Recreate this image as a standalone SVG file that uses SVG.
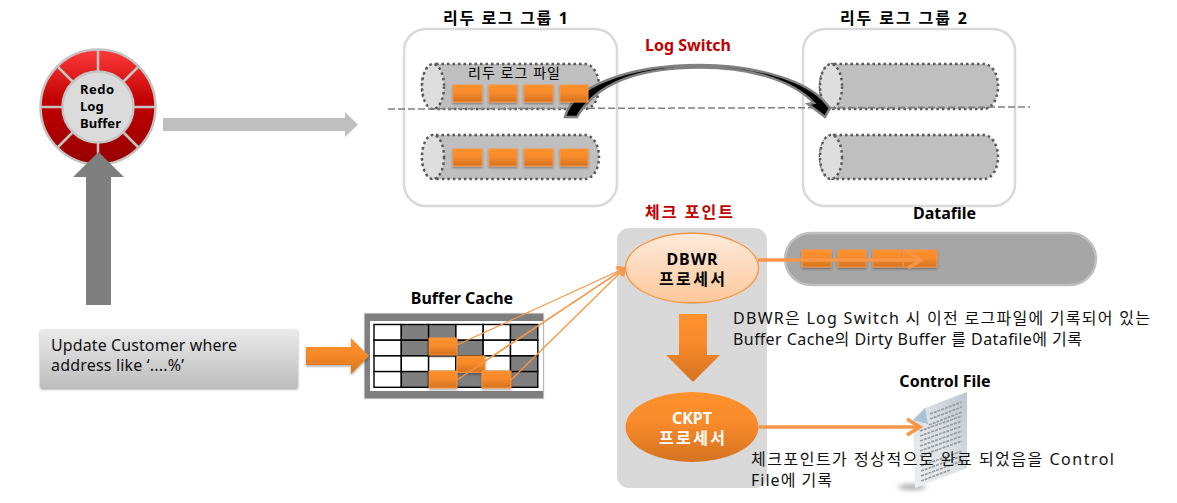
<svg xmlns="http://www.w3.org/2000/svg" width="1177" height="503" viewBox="0 0 1177 503">
<defs>
<linearGradient id="og" x1="0" y1="0" x2="0" y2="1"><stop offset="0" stop-color="#ff922d"/><stop offset=".45" stop-color="#f78a2a"/><stop offset="1" stop-color="#d4721f"/></linearGradient>
<linearGradient id="rd" x1="0" y1="0" x2="0" y2="1"><stop offset="0" stop-color="#ff3b3b"/><stop offset=".45" stop-color="#c00000"/><stop offset="1" stop-color="#960000"/></linearGradient>
<linearGradient id="gb" x1="0" y1="0" x2="0" y2="1"><stop offset="0" stop-color="#ebebeb"/><stop offset="1" stop-color="#bdbdbd"/></linearGradient>
<linearGradient id="lo" x1="0" y1="0" x2="0" y2="1"><stop offset="0" stop-color="#fdeadb"/><stop offset="1" stop-color="#fdc89b"/></linearGradient>
<linearGradient id="pg" x1="1" y1="0" x2="0" y2="1"><stop offset="0" stop-color="#bcc7d0"/><stop offset=".5" stop-color="#dde2e6"/><stop offset="1" stop-color="#eef0f2"/></linearGradient>
<filter id="sh" x="-20%" y="-20%" width="140%" height="150%"><feDropShadow dx="0" dy="1.500" stdDeviation="1.200" flood-color="#000" flood-opacity=".35"/></filter>
<filter id="bl" x="-50%" y="-200%" width="200%" height="500%"><feGaussianBlur stdDeviation="2.500"/></filter>
<filter id="sf" x="-10%" y="-10%" width="120%" height="120%"><feGaussianBlur stdDeviation="0.500"/></filter>
<marker id="ah" markerWidth="22" markerHeight="20" refX="17" refY="10" orient="auto" markerUnits="userSpaceOnUse"><path d="M4 2 L17 10 L4 18" fill="none" stroke="#f79646" stroke-width="3.500"/></marker>
<marker id="ahs" markerWidth="12" markerHeight="12" refX="9" refY="6" orient="auto" markerUnits="userSpaceOnUse"><path d="M2 1 L9 6 L2 11" fill="none" stroke="#f79646" stroke-width="1.500"/></marker>
</defs>
<style>
text{font-family:"Noto Sans","Noto Sans CJK KR",sans-serif;fill:#000}
.t{font-size:16px;font-weight:700;text-anchor:middle}
.b{font-size:16px;fill:#111}
.box{fill:#fff;stroke:#d9d9d9;stroke-width:2.500}
.cyl{fill:#bfbfbf;stroke:#595959;stroke-width:2.500;stroke-dasharray:2.500 3}
.cap{fill:#dedede;stroke:#595959;stroke-width:2.500;stroke-dasharray:2.500 3}
.o{fill:url(#og);stroke:#f79646;stroke-width:1;filter:url(#sh)}
.gc{stroke:#000;stroke-width:1.400;fill:#fff}
.gd{stroke:#000;stroke-width:1.400;fill:#7f7f7f}
.sp{stroke:#c4c4c4;stroke-width:2.500}
.ln{fill:none;stroke:#f79646;stroke-width:1.300}
.tl{stroke:#9a9d9f;stroke-width:1.800;fill:none;stroke-dasharray:3 1}
</style>

<g id="redo-log-buffer">
<circle cx="98" cy="107" r="57.500" fill="url(#rd)" stroke="#c4c4c4" stroke-width="2.500"/>
<path class="sp" d="M98 50V164M41 107H155M58 67L138 147M138 67L58 147"/>
<circle cx="98" cy="107" r="35.500" fill="#dbdbdb" stroke="#c4c4c4" stroke-width="2.500"/>
<text x="80" y="94" font-size="13" font-weight="700" textLength="34">Redo</text>
<text x="80" y="111" font-size="13" font-weight="700">Log</text>
<text x="80" y="128" font-size="13" font-weight="700" textLength="41">Buffer</text>
</g>

<g id="update-box">
<rect x="40" y="329" width="258" height="59" rx="2" fill="url(#gb)" filter="url(#sh)"/>
<text x="51" y="351" class="b" textLength="186">Update Customer where</text>
<text x="51" y="371" class="b" textLength="133">address like ‘....%’</text>
</g>

<g id="group-1">
<text x="505.500" y="24" class="t" textLength="125">리두 로그 그룹 1</text>
<rect class="box" x="404" y="29" width="213" height="177" rx="22"/>
<rect class="cyl" x="422" y="64" width="177" height="45" rx="14" ry="22"/>
<ellipse class="cap" cx="433" cy="86.500" rx="11" ry="22.500"/>
<text x="514" y="78" font-size="14" text-anchor="middle" fill="#222" textLength="92">리두 로그 파일</text>
<rect class="cyl" x="422" y="135" width="177" height="44" rx="14" ry="22"/>
<ellipse class="cap" cx="433" cy="157" rx="11" ry="22"/>
</g>

<g id="group-2">
<text x="903.500" y="24" class="t" textLength="127">리두 로그 그룹 2</text>
<rect class="box" x="803" y="29" width="212" height="177" rx="22"/>
<rect class="cyl" x="820" y="64" width="178" height="45" rx="14" ry="22"/>
<ellipse class="cap" cx="831" cy="86.500" rx="11" ry="22.500"/>
<rect class="cyl" x="820" y="135" width="178" height="44" rx="14" ry="22"/>
<ellipse class="cap" cx="831" cy="157" rx="11" ry="22"/>
</g>

<g id="checkpoint-panel">
<rect x="617" y="228" width="150" height="260" rx="12" fill="#d9d9d9"/>
<text x="689" y="218" class="t" style="fill:#c00000" textLength="88">체크 포인트</text>
</g>

<g id="datafile">
<text x="944.500" y="219" class="t">Datafile</text>
<rect x="785" y="233" width="311" height="52" rx="26" fill="#a6a6a6" stroke="#c0c0c0" stroke-width="2.500"/>
</g>

<g id="buffer-cache">
<text x="462" y="304" class="t">Buffer Cache</text>
<rect x="364" y="313" width="180" height="86" fill="#7f7f7f" stroke="#eee"/>
<rect x="370" y="321" width="173" height="70" fill="#fff"/>
<g>
<rect class="gc" x="374" y="324.500" width="27.300" height="15.700"/><rect class="gd" x="401.300" y="324.500" width="27.300" height="15.700"/><rect class="gd" x="428.600" y="324.500" width="27.300" height="15.700"/><rect class="gc" x="455.900" y="324.500" width="27.300" height="15.700"/><rect class="gc" x="483.200" y="324.500" width="27.300" height="15.700"/><rect class="gd" x="510.500" y="324.500" width="27.300" height="15.700"/>
<rect class="gc" x="374" y="340.200" width="27.300" height="15.700"/><rect class="gd" x="401.300" y="340.200" width="27.300" height="15.700"/><rect class="gc" x="428.600" y="340.200" width="27.300" height="15.700"/><rect class="gd" x="455.900" y="340.200" width="27.300" height="15.700"/><rect class="gc" x="483.200" y="340.200" width="27.300" height="15.700"/><rect class="gc" x="510.500" y="340.200" width="27.300" height="15.700"/>
<rect class="gc" x="374" y="355.900" width="27.300" height="15.700"/><rect class="gc" x="401.300" y="355.900" width="27.300" height="15.700"/><rect class="gc" x="428.600" y="355.900" width="27.300" height="15.700"/><rect class="gc" x="455.900" y="355.900" width="27.300" height="15.700"/><rect class="gc" x="483.200" y="355.900" width="27.300" height="15.700"/><rect class="gd" x="510.500" y="355.900" width="27.300" height="15.700"/>
<rect class="gc" x="374" y="371.600" width="27.300" height="15.700"/><rect class="gd" x="401.300" y="371.600" width="27.300" height="15.700"/><rect class="gc" x="428.600" y="371.600" width="27.300" height="15.700"/><rect class="gd" x="455.900" y="371.600" width="27.300" height="15.700"/><rect class="gc" x="483.200" y="371.600" width="27.300" height="15.700"/><rect class="gd" x="510.500" y="371.600" width="27.300" height="15.700"/>
</g>
<rect class="o" x="429" y="338" width="28" height="17"/>
<rect class="o" x="457" y="356" width="28" height="16.500"/>
<rect class="o" x="429" y="371" width="28" height="17"/>
<rect class="o" x="482" y="371" width="29" height="17"/>
</g>

<g id="dbwr">
<ellipse cx="692" cy="268" rx="66.500" ry="35" fill="url(#lo)" stroke="#f79646" stroke-width="1.300"/>
<text x="692" y="265" class="t" textLength="51">DBWR</text>
<text x="692" y="285" class="t" textLength="66">프로세서</text>
</g>

<g id="ckpt">
<ellipse cx="692" cy="427" rx="66.500" ry="35" fill="url(#og)"/>
<text x="692" y="424" class="t" style="fill:#fff" textLength="40">CKPT</text>
<text x="692" y="444" class="t" style="fill:#fff" textLength="66">프로세서</text>
</g>

<g id="control-file">
<text x="945" y="387" class="t">Control File</text>
<ellipse cx="912" cy="487" rx="14" ry="2.500" fill="#777" opacity=".7" filter="url(#bl)"/>
<polygon points="967,392 925,408 913,420 915,488 967,468" fill="url(#pg)"/>
<polygon points="925,408 913,420 928,424" fill="#a9c4d8"/>
<path class="tl" filter="url(#sf)" d="M930 414L962 402M930 419L962 407M929 425L962 412M920 431L962 416M920 436L962 421M920 441L962 426M920 446L962 431M920 451L962 436M920 456L962 441M921 466L962 451M921 471L962 456M921 476L962 461M921 481L950 470"/>
</g>

<g id="connectors">
<path d="M163 118H345V112L358 124.500L345 137V131H163Z" fill="#bfbfbf"/>
<path d="M86 305V177H73L98.500 152L124 177H111V305Z" fill="#7f7f7f"/>
<path d="M306 347H351V338L369 356L351 374V365H306Z" fill="url(#og)" filter="url(#sh)"/>
<path d="M388 109L1030 107" fill="none" stroke="#808080" stroke-width="1.500" stroke-dasharray="7 3"/>
<path id="log-switch" d="M565 117C572 88 625 65 700 65C750 65 800 78 822 99L830 108L825 117L808 104L814 103C792 80 750 67.500 700 67.500C645 67.500 598 80 577 117Z" fill="#000" stroke="#808080" stroke-width="2.500"/>
<path class="ln" marker-end="url(#ahs)" d="M457 345L625 268"/>
<path class="ln" marker-end="url(#ahs)" d="M485 361L625 268"/>
<path class="ln" marker-end="url(#ahs)" d="M457 380L625 268"/>
<path class="ln" marker-end="url(#ahs)" d="M511 380L625 268"/>
<path d="M679 314H707V355H720L693 382L666 355H679Z" fill="url(#og)"/>
<path d="M759 427H920" stroke="#f79646" stroke-width="3.500" fill="none" marker-end="url(#ah)"/>
</g>

<g id="log-blocks">
<rect class="o" x="453" y="85" width="29" height="17"/><rect class="o" x="489" y="85" width="28" height="17"/><rect class="o" x="524" y="85" width="29" height="17"/><rect class="o" x="560" y="85" width="28" height="17"/>
<rect class="o" x="453" y="149" width="29" height="17"/><rect class="o" x="489" y="149" width="28" height="17"/><rect class="o" x="524" y="149" width="29" height="17"/><rect class="o" x="560" y="149" width="28" height="17"/>
<rect class="o" x="802" y="250" width="29" height="17"/><rect class="o" x="838" y="250" width="28" height="17"/><rect class="o" x="873" y="250" width="29" height="17"/><rect class="o" x="903" y="250" width="34" height="17"/>
<path d="M758 260H921" stroke="#f79646" stroke-width="3.500" fill="none" marker-end="url(#ah)"/>
</g>

<g id="labels">
<text x="688" y="51" class="t" style="fill:#c00000" textLength="86">Log Switch</text>
<text x="733" y="324" class="b" textLength="417">DBWR은 Log Switch 시 이전 로그파일에 기록되어 있는</text>
<text x="733" y="345" class="b" textLength="349">Buffer Cache의 Dirty Buffer 를 Datafile에 기록</text>
<text x="751" y="465" class="b" textLength="363">체크포인트가 정상적으로 완료 되었음을 Control</text>
<text x="751" y="486" class="b" textLength="81">File에 기록</text>
</g>
</svg>
